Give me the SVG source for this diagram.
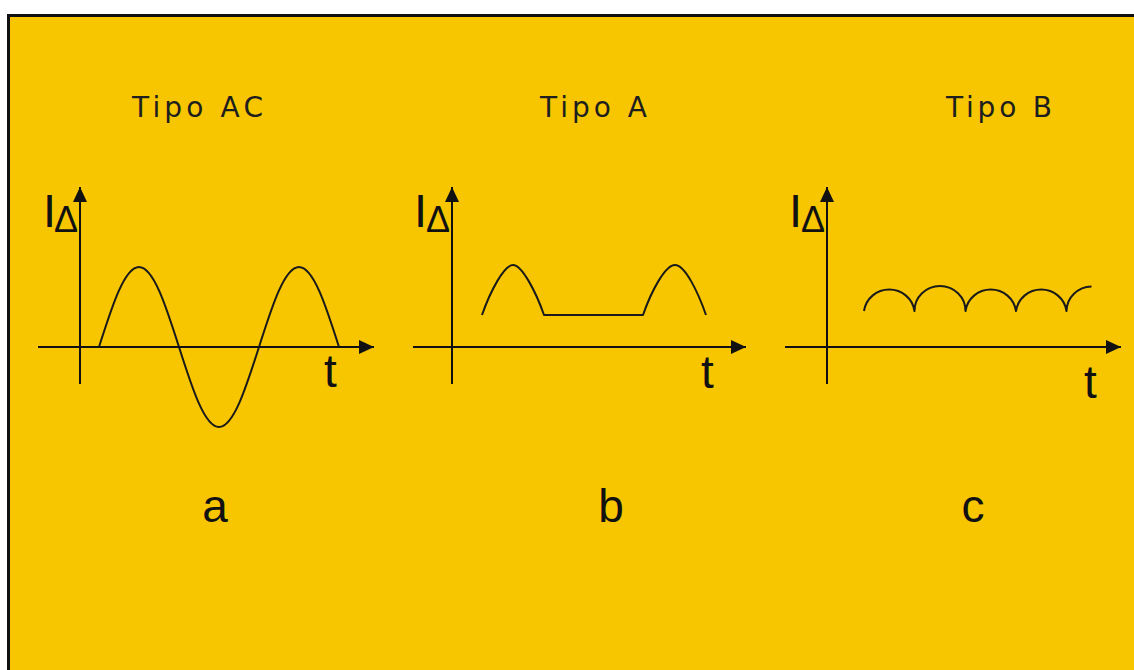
<svg xmlns="http://www.w3.org/2000/svg" width="1134" height="670" viewBox="0 0 1134 670">
<style>
.ax{stroke:#111;stroke-width:2;fill:none}
.wave{stroke:#1a1a1a;stroke-width:2;fill:none;stroke-linejoin:round}
.title{font-family:"DejaVu Sans",Verdana,sans-serif;font-size:28px;fill:#1e1e1e}
.lbl{font-family:"Liberation Sans",Arial,sans-serif;fill:#111}
</style>
<defs>
<marker id="arr" markerUnits="userSpaceOnUse" markerWidth="16" markerHeight="16" viewBox="-15 -8 16 16" refX="0" refY="0" orient="auto">
<path d="M0,0 L-15,-7 L-15,7 Z" fill="#111"/>
</marker>
</defs>
<rect x="0" y="0" width="1134" height="670" fill="#ffffff"/>
<rect x="8.5" y="15.5" width="1140" height="670" fill="#F7C600" stroke="#111" stroke-width="3"/>

<g id="panel-a">
<text class="title" x="132" y="117" textLength="131" lengthAdjust="spacing">Tipo AC</text>
<text class="lbl" x="43" y="227" font-size="47">I</text>
<text class="lbl" x="54" y="232" font-size="36">Δ</text>
<text class="lbl" x="324" y="387" font-size="46">t</text>
<text class="lbl" x="215" y="522" font-size="46" text-anchor="middle">a</text>
<path class="wave" d="M99,347 C112.05,306 124.52,267 139,267 C153.48,267 165.95,306 179,347 C192.05,388 204.52,427 219,427 C233.48,427 245.95,388 259,347 C272.05,306 284.52,267 299,267 C313.48,267 325.95,306 339,347"/>
</g>

<g id="panel-b">
<text class="title" x="540" y="117" textLength="107" lengthAdjust="spacing">Tipo A</text>
<text class="lbl" x="414" y="227" font-size="47">I</text>
<text class="lbl" x="426" y="232" font-size="36">Δ</text>
<text class="lbl" x="701" y="388" font-size="46">t</text>
<text class="lbl" x="611" y="522" font-size="46" text-anchor="middle">b</text>
<path class="wave" d="M482,315 C490,292 504,265 513,265 C522,265 536,292 544,315 L643,315 C651,292 665,265 675,265 C685,265 698,292 706,315"/>
</g>

<g id="panel-c">
<text class="title" x="946" y="117" textLength="106" lengthAdjust="spacing">Tipo B</text>
<text class="lbl" x="789" y="227" font-size="47">I</text>
<text class="lbl" x="801" y="232" font-size="36">Δ</text>
<text class="lbl" x="1084" y="398" font-size="46">t</text>
<text class="lbl" x="973" y="522" font-size="46" text-anchor="middle">c</text>
<path class="wave" d="M864,311 A25.5,25 0 0 1 914.5,311 A25.5,25 0 0 1 965.5,311 A25.5,25 0 0 1 1016,311 A25.5,25 0 0 1 1066.5,311 A25.5,25 0 0 1 1091.5,286.5"/>
</g>

<g id="connectors">
<line class="ax" x1="80" y1="384" x2="80" y2="187" marker-end="url(#arr)"/>
<line class="ax" x1="38" y1="347" x2="374" y2="347" marker-end="url(#arr)"/>
<line class="ax" x1="452" y1="384" x2="452" y2="187" marker-end="url(#arr)"/>
<line class="ax" x1="413" y1="347" x2="746" y2="347" marker-end="url(#arr)"/>
<line class="ax" x1="827" y1="384" x2="827" y2="187" marker-end="url(#arr)"/>
<line class="ax" x1="785" y1="347" x2="1121" y2="347" marker-end="url(#arr)"/>
</g>
</svg>
